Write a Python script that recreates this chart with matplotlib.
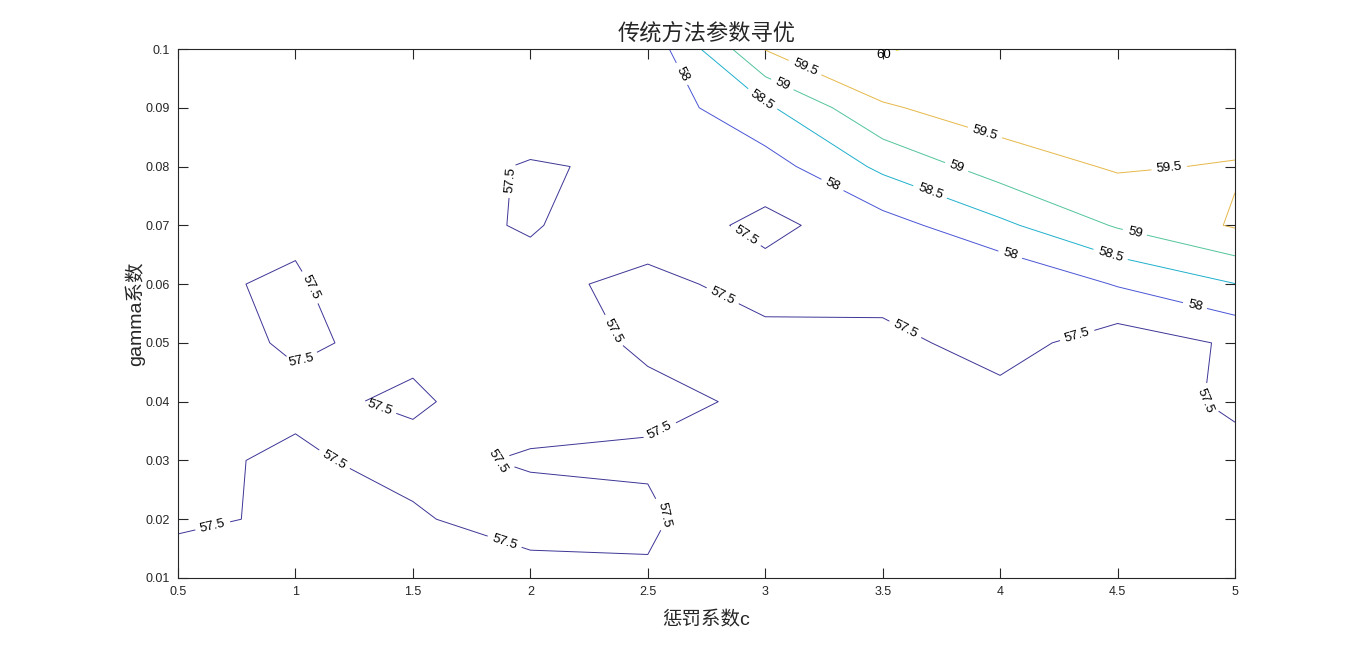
import numpy as np
import matplotlib
matplotlib.use('Agg')
import matplotlib.pyplot as plt

plt.rcParams['font.family'] = ['Liberation Sans', 'Noto Sans CJK SC']

# grid of the parameter search
c_values = [0.5, 1.0, 1.5, 2.0, 2.5, 3.0, 3.5, 4.0, 4.5, 5.0]
gamma_values = [0.01, 0.02, 0.03, 0.04, 0.05, 0.06, 0.07, 0.08, 0.09, 0.1]

# accuracy, one row per gamma value (0.01 ... 0.1), columns follow c_values
acc_g001 = [57.15, 57.20, 57.30, 57.41, 57.45, 57.10, 57.10, 57.00, 57.00, 57.10]
acc_g002 = [57.617, 57.40, 57.475, 57.60, 57.575, 57.11, 57.15, 57.10, 57.10, 57.20]
acc_g003 = [57.54, 57.471, 57.558, 57.475, 57.45, 57.30, 57.25, 57.20, 57.15, 57.314]
acc_g004 = [57.60, 57.535, 57.475, 57.60, 57.575, 57.45, 57.35, 57.33, 57.215, 57.60]
acc_g005 = [57.568, 57.481, 57.5375, 57.66, 57.45, 57.34, 57.35, 57.71, 57.236, 57.566]
acc_g006 = [57.555, 57.46, 57.79, 57.655, 57.345, 57.70, 57.70, 57.52, 58.036, 58.49]
acc_g007 = [57.60, 57.56, 57.656, 57.461, 57.80, 57.37, 57.794, 58.39, 59.05, 59.55]
acc_g008 = [57.65, 57.60, 57.605, 57.48, 57.539, 57.78, 58.61, 59.24, 59.556, 59.46]
acc_g009 = [57.70, 57.65, 57.65, 57.647, 57.68, 58.41, 59.44, 59.76, 59.70, 59.82]
acc_g010 = [57.75, 57.70, 57.70, 57.70, 57.66, 59.52, 60.04, 59.81, 59.80, 59.85]

levels = [57.5, 58.0, 58.5, 59.0, 59.5, 60.0]
level_colors = ['#3d3596', '#4a55d4', '#1fb0cc', '#52c49a', '#e6b84a', '#f2e21a']

# where the labels sit (same spots as the original figure)
label_pos = [(0.649, 0.0187), (1.17, 0.0304), (1.89, 0.0161), (1.858, 0.0296),
             (2.55, 0.0352), (2.565, 0.0207), (2.36, 0.0522), (2.82, 0.0581),
             (3.595, 0.0522), (4.33, 0.051), (4.84, 0.0403), (1.083, 0.0598),
             (1.028, 0.0467), (1.35, 0.0382), (1.913, 0.0777), (2.914, 0.068),
             (2.637, 0.0956), (3.284, 0.0767), (4.04, 0.0646), (4.83, 0.0564),
             (2.986, 0.0913), (3.70, 0.0755), (4.47, 0.065),
             (3.07, 0.0937), (3.81, 0.0794), (4.57, 0.0682),
             (3.165, 0.0964), (3.935, 0.0857), (4.72, 0.0798),
             (3.506, 0.099)]

Z = np.array([acc_g001, acc_g002, acc_g003, acc_g004, acc_g005,
              acc_g006, acc_g007, acc_g008, acc_g009, acc_g010])
C, G = np.meshgrid(c_values, gamma_values)

fig = plt.figure(figsize=(13.66, 6.5), dpi=100)
ax = fig.add_axes([178 / 1366, 1 - 578 / 650, (1235 - 178) / 1366, (578 - 49) / 650])

cs = ax.contour(C, G, Z, levels=levels, colors=level_colors, linewidths=0.7)
texts = ax.clabel(cs, inline=True, fmt='%g', fontsize=9.5, colors='k',
                  manual=label_pos, inline_spacing=5)
# the 60 label hugs the top edge, nudge it down so it is fully shown
for t in texts:
    if t.get_text() == '60':
        t.set_position((3.506, 0.0990))
        t.set_rotation(0)
        t.set_clip_on(False)

ax.set_xlim(0.5, 5)
ax.set_ylim(0.01, 0.1)
ax.set_xticks(c_values)
ax.set_xticklabels(['%g' % v for v in c_values])
ax.set_yticks(gamma_values)
ax.set_yticklabels(['%g' % v for v in gamma_values])
ax.tick_params(direction='in', length=7, width=0.8, top=True, right=True,
               labelsize=9, colors='#262626', pad=6)
for s in ax.spines.values():
    s.set_linewidth(0.8)
    s.set_color('#262626')

ax.set_title('传统方法参数寻优', fontsize=16, color='#262626', pad=6)
ax.set_xlabel('惩罚系数c', fontsize=14, color='#262626', labelpad=9)
ax.set_ylabel('gamma系数', fontsize=14, color='#262626', labelpad=0)

fig.savefig('out.png', dpi=100)
